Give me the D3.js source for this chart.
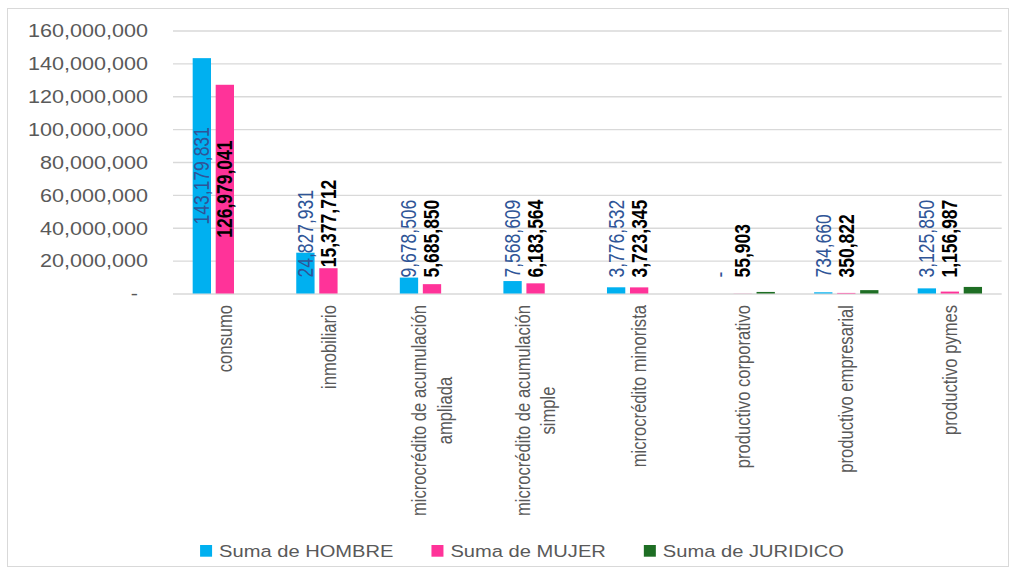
<!DOCTYPE html>
<html>
<head>
<meta charset="utf-8">
<script src="https://cdn.jsdelivr.net/npm/d3@7"></script>
<style>
  html, body { margin: 0; padding: 0; background: #fff; }
  svg { display: block; font-family: "Liberation Sans", Arial, sans-serif; }
</style>
</head>
<body>
<script>
// data
var categories = ['consumo', 'inmobiliario', 'microcrédito de acumulación ampliada',
                  'microcrédito de acumulación simple', 'microcrédito minorista',
                  'productivo corporativo', 'productivo empresarial', 'productivo pymes'];
var categoryLines = [['consumo'], ['inmobiliario'],
                     ['microcrédito de acumulación', 'ampliada'],
                     ['microcrédito de acumulación', 'simple'],
                     ['microcrédito minorista'], ['productivo corporativo'],
                     ['productivo empresarial'], ['productivo pymes']];
var seriesNames = ['Suma de HOMBRE', 'Suma de MUJER', 'Suma de JURIDICO'];
var hombre   = [143179831, 24827931, 9678506, 7568609, 3776532, 0, 734660, 3125850];
var mujer    = [126979041, 15377712, 5685850, 6183564, 3723345, 55903, 350822, 1156987];
var juridico = [0, 0, 0, 0, 0, 950000, 2050000, 4000000];
var yTicks = [0, 20000000, 40000000, 60000000, 80000000, 100000000, 120000000, 140000000, 160000000];

var colours = ['#00B0F0', '#FF3399', '#1E6E24'];

// the picture is stretched sideways, so draw in a narrower space and scale x
var S = 1.22
var X = function(px) { return px / S; }

var svg = d3.select('body').append('svg')
    .attr('width', 1016)
    .attr('height', 573)

svg.append('rect')
    .attr('x', 7.5).attr('y', 8.5)
    .attr('width', 1001).attr('height', 558)
    .attr('fill', 'none')
    .attr('stroke', '#d9d9d9')

var g = svg.append('g').attr('transform', 'scale(' + S + ',1)')

var left = X(173), right = X(1001.7)

var y = d3.scaleLinear()
    .domain([0, 160000000])
    .range([293.5, 30.5])

var x0 = d3.scaleBand()
    .domain(categories)
    .range([left, right])
    .paddingInner(0.379)
    .paddingOuter(0.19)

var x1 = d3.scaleBand()
    .domain(seriesNames)
    .range([0, x0.bandwidth()])
    .paddingInner(0.204)

var fmt = d3.format(',')

// y axis + gridlines
var yAxis = g.append('g')
    .attr('transform', 'translate(' + left + ',0)')
    .call(d3.axisLeft(y)
        .tickValues(yTicks)
        .tickSize(-(right - left))
        .tickPadding(X(25))
        .tickFormat(function(d) { return d === 0 ? '-' : fmt(d); }))

yAxis.select('.domain').remove()
yAxis.selectAll('.tick line')
    .attr('stroke', '#d9d9d9')
    .attr('stroke-width', 1.4)
yAxis.selectAll('.tick text')
    .attr('fill', '#595959')
    .attr('font-size', '17.7px')
    .attr('font-family', '"Liberation Sans", Arial, sans-serif')
    .attr('dy', '0.36em')
    .attr('dx', function(d) { return d === 0 ? -X(10) : 0; })

// bars
var series = [hombre, mujer, juridico]
var rows = []
series.forEach(function(vals, s) {
  vals.forEach(function(v, i) {
    rows.push({ s: s, name: seriesNames[s], cat: categories[i], value: v })
  })
})

g.selectAll('.bar')
    .data(rows)
  .enter().append('rect')
    .attr('class', 'bar')
    .attr('x', function(d) { return x0(d.cat) + x1(d.name); })
    .attr('width', x1.bandwidth())
    .attr('y', function(d) { return y(d.value); })
    .attr('height', function(d) { return y(0) - y(d.value); })
    .attr('fill', function(d) { return colours[d.s]; })

// data labels (JURIDICO has none)
var labelled = rows.filter(function(d) { return d.s < 2; })

g.selectAll('.lbl')
    .data(labelled)
  .enter().append('text')
    .attr('class', 'lbl')
    .attr('transform', function(d) {
      var cx = x0(d.cat) + x1(d.name) + x1.bandwidth() / 2
      var py
      if (d.value > 100000000) py = (y(d.value) + y(0)) / 2
      else if (d.s === 0) py = y(0) - 16
      else py = Math.min(y(0) - 16, y(d.value) - 1)
      return 'translate(' + cx + ',' + py + ') rotate(-90)'
    })
    .attr('text-anchor', function(d) { return d.value > 100000000 ? 'middle' : 'start'; })
    .attr('dy', '0.35em')
    .attr('font-size', '17.5px')
    .attr('font-weight', function(d) { return d.s === 1 ? 'bold' : 'normal'; })
    .attr('fill', function(d) { return d.s === 1 ? '#000000' : '#2F5597'; })
    .text(function(d) { return d.value === 0 ? '-' : fmt(d.value); })

// category labels
var catG = g.selectAll('.cat')
    .data(categories)
  .enter().append('text')
    .attr('class', 'cat')
    .attr('font-size', '16.6px')
    .attr('fill', '#595959')
    .attr('text-anchor', 'middle')

catG.each(function(c, i) {
  var el = d3.select(this)
  var lines = categoryLines[i]
  var lh = 20.9
  lines.forEach(function(t, k) {
    el.append('tspan')
      .attr('x', 0)
      .attr('y', (k - (lines.length - 1) / 2) * lh)
      .attr('dy', '0.35em')
      .text(t)
  })
  var maxLen = 0
  el.selectAll('tspan').each(function() {
    maxLen = Math.max(maxLen, this.getComputedTextLength())
  })
  var cx = x0(c) + x0.bandwidth() / 2
  el.attr('transform', 'translate(' + cx + ',' + (305 + maxLen / 2) + ') rotate(-90)')
})

// legend
var legend = g.append('g')
var lx = 0
seriesNames.forEach(function(name, i) {
  legend.append('rect')
      .attr('x', lx)
      .attr('y', 545)
      .attr('width', X(12))
      .attr('height', 11.7)
      .attr('fill', colours[i])
  var t = legend.append('text')
      .attr('x', lx + X(19))
      .attr('y', 557)
      .attr('font-size', '16.5px')
      .attr('fill', '#595959')
      .text(name)
  lx += X(19) + t.node().getComputedTextLength() + X(38)
})
var legendW = lx - X(38)
legend.attr('transform', 'translate(' + (X(522) - legendW / 2) + ',0)')
</script>
</body>
</html>
